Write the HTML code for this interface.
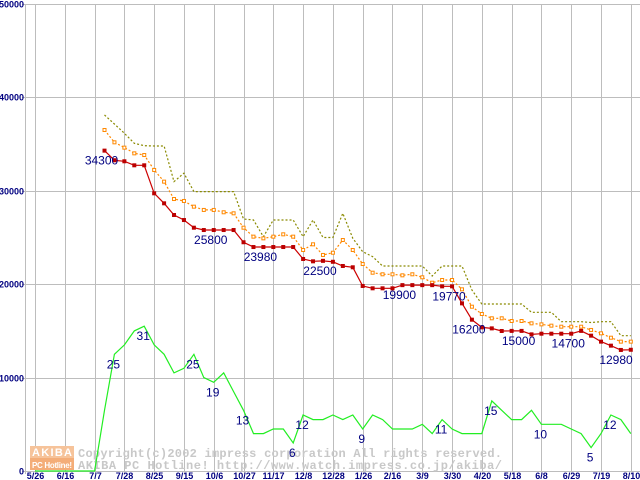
<!DOCTYPE html>
<html><head><meta charset="utf-8"><style>
html,body{margin:0;padding:0;background:#fff;width:640px;height:480px;overflow:hidden}
svg{display:block}
</style></head><body>
<svg id="chart" width="640" height="480" viewBox="0 0 640 480" xmlns="http://www.w3.org/2000/svg">
<g id="grid"></g>
<g id="wm">
  <rect x="30" y="446" width="44" height="12" fill="#f6c39a"/>
  <rect x="30" y="458" width="44" height="12" fill="#f4ad78"/>
  <text x="52" y="456" text-anchor="middle" font-family="Liberation Sans, sans-serif" font-weight="bold" font-size="11" fill="#fff" textLength="40">AKIBA</text>
  <text x="52" y="468" text-anchor="middle" font-family="Liberation Sans, sans-serif" font-weight="bold" font-size="8" fill="#fff" textLength="40">PC Hotline!</text>
  <text x="78" y="457" font-family="Liberation Mono, monospace" font-weight="bold" font-size="12" fill="#c8c8c8" textLength="424">Copyright(c)2002 impress corporation All rights reserved.</text>
  <text x="78" y="469" font-family="Liberation Mono, monospace" font-weight="bold" font-size="12" fill="#c8c8c8" textLength="424">AKIBA PC Hotline!  http://www.watch.impress.co.jp/akiba/</text>
</g>
<g id="series"></g>
<g id="labels"></g>
</svg>
<script>
const xLabels = ["5/26","6/16","7/7","7/28","8/25","9/15","10/6","10/27","11/17","12/8","12/28","1/26","2/16","3/9","3/30","4/20","5/18","6/8","6/29","7/19","8/10"];
const yTicks = [0,10000,20000,30000,40000,50000];
const startIdx = 7;
const minPrice = [34300,33270,33160,32730,32730,29730,28660,27410,26870,26050,25800,25800,25800,25800,24490,23980,23980,23980,23980,23980,22700,22450,22500,22400,21950,21810,19810,19560,19560,19560,19900,19900,19900,19900,19770,19770,17950,16200,15380,15270,14990,15000,15000,14630,14700,14700,14700,14700,15000,14490,13850,13420,12960,12980];
const avgPrice = [36510,35190,34620,34010,33830,32230,30980,29120,28910,28300,27950,27950,27700,27590,26050,25090,24910,25090,25340,25090,23660,24270,23130,23370,24730,23660,22160,21230,21060,21060,20950,21060,20740,20160,20450,20450,19450,17590,16810,16350,16350,16060,16060,15810,15700,15560,15450,15450,15450,15100,14740,14270,13850,13850];
const maxPrice = [38120,37150,36160,35090,34830,34800,34800,30980,31880,29910,29910,29910,29910,29910,26980,26870,25090,26870,26870,26870,25090,26870,25000,25000,27590,24910,23480,22950,21950,21950,21950,21950,21950,20880,21950,21950,21950,19380,17880,17880,17880,17880,17880,16990,16990,16990,15990,15990,15990,15900,15990,15990,14490,14490];
const shopCount = [0,0,0,0,0,0,0,13,25,27,30,31,27,25,21,22,25,20,19,21,17,13,8,8,9,9,6,12,11,11,12,11,12,9,12,11,9,9,9,10,8,11,9,8,8,8,15,13,11,11,13,10,10,10,9,8,5,8,12,11,8];
const priceLabelIdx = [7,18,23,29,37,42,44,49,54,60];
const countLabelIdx = [8,11,16,18,21,26,27,33,41,46,51,56,58];
const countScale = 500;

const NS="http://www.w3.org/2000/svg";
const X = i => 35 + i*9.93;
const Y = v => 471 - v*(467/50000);
function mk(tag, attrs, parent){const e=document.createElementNS(NS,tag);for(const k in attrs)e.setAttribute(k,attrs[k]);parent.appendChild(e);return e;}
const grid=document.getElementById('grid'), ser=document.getElementById('series'), lab=document.getElementById('labels');

mk('line',{x1:25.5,y1:4,x2:25.5,y2:474,stroke:'#bdbdbd','stroke-width':1},grid);
xLabels.forEach((t,k)=>{
  const x=Math.round(X(k*3))+0.5;
  const l=mk('line',{x1:x,y1:4,x2:x,y2:474,stroke:'#bdbdbd','stroke-width':1},grid);
  
  
  const tx=mk('text',{x:x,y:479,'text-anchor':'middle','font-family':'Liberation Sans, sans-serif','font-weight':'bold','font-size':'9',fill:'#000080'},grid);
  tx.textContent=t;
  
  
});
yTicks.forEach(v=>{
  const y=Math.round(Y(v))+0.5;
  const l=mk('line',{x1:22,y1:y,x2:640,y2:y,stroke:'#bdbdbd','stroke-width':1},grid);
  
  
  const tx=mk('text',{x:24,y:y+3,'text-anchor':'end','font-family':'Liberation Sans, sans-serif','font-weight':'bold','font-size':'9',fill:'#000080'},grid);
  tx.textContent=String(v);
  
  
});

function pts(arr,off,scale){return arr.map((v,j)=>X(j+off).toFixed(1)+','+Y(v*scale).toFixed(1)).join(' ');}
const g1=mk('polyline',{points:pts(shopCount,0,countScale),fill:'none',stroke:'#22ee22','stroke-width':1.2},ser);


const l3=mk('polyline',{points:pts(maxPrice,startIdx,1),fill:'none',stroke:'#8a8a00','stroke-width':1.2,'stroke-dasharray':'2,2'},ser);


const l2=mk('polyline',{points:pts(avgPrice,startIdx,1),fill:'none',stroke:'#ff8800','stroke-width':1.2,'stroke-dasharray':'2,2'},ser);


avgPrice.forEach((v,j)=>{
  const r=mk('rect',{x:X(j+startIdx)-1.5,y:Y(v)-1.5,width:3,height:3,fill:'#fff',stroke:'#ff8800','stroke-width':1},ser);
  
  
});
const l1=mk('polyline',{points:pts(minPrice,startIdx,1),fill:'none',stroke:'#cc0000','stroke-width':1.2},ser);


minPrice.forEach((v,j)=>{
  const r=mk('rect',{x:X(j+startIdx)-2,y:Y(v)-2,width:4,height:4,fill:'#bb0000'},ser);
  
  
});
priceLabelIdx.forEach(i=>{
  const v=minPrice[i-startIdx];
  const t=mk('text',{x:Math.min(X(i)-3,616),y:Y(v)+14,'text-anchor':'middle','font-family':'Liberation Sans, sans-serif','font-size':'12',fill:'#000080'},lab);
  t.textContent=String(v);
  
  
});
countLabelIdx.forEach(i=>{
  const v=shopCount[i];
  const t=mk('text',{x:X(i)-1,y:Y(v*countScale)+14,'text-anchor':'middle','font-family':'Liberation Sans, sans-serif','font-size':'12',fill:'#000080'},lab);
  t.textContent=String(v);
  
  
});
</script>
</body></html>
